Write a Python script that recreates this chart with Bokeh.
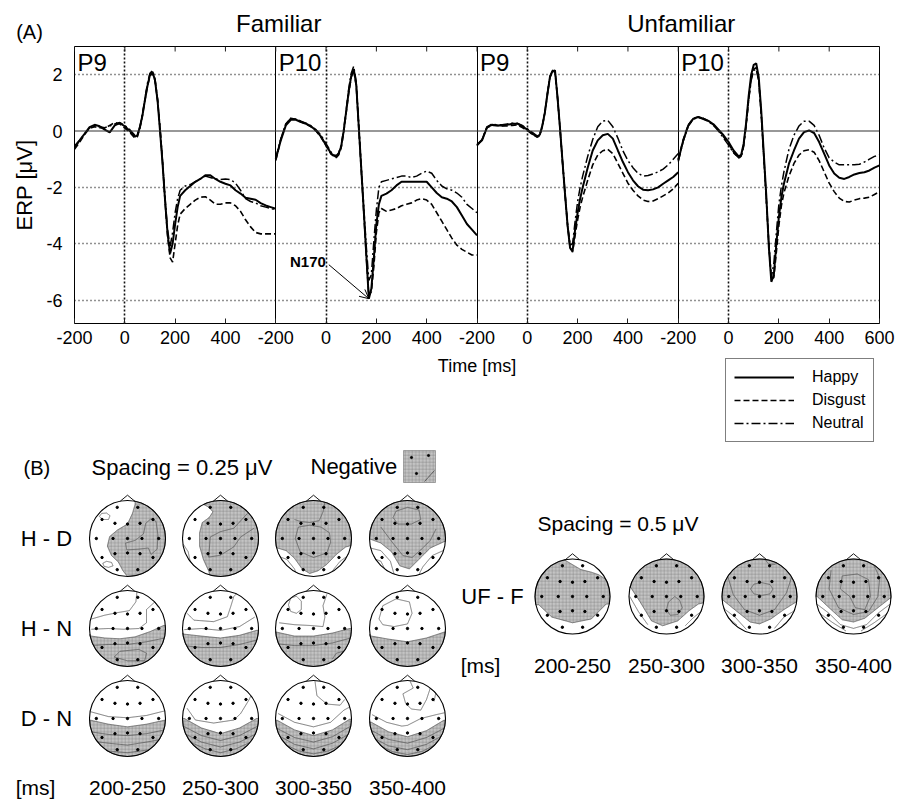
import numpy as np
from bokeh.plotting import figure
from bokeh.layouts import column
from bokeh.models import (Range1d, FixedTicker, LinearAxis, Grid, Span, Legend,
                          LegendItem, Arrow, OpenHead, Label)
from bokeh.core.properties import value
from bokeh.embed import file_html
from bokeh.resources import INLINE

FONT = "Liberation Sans"

# ============================================================ data, part (A)
TIME = [-200, -180, -160, -140, -120, -100, -80, -60, -40, -20, 0, 20, 40,
        50, 60, 70, 80, 90, 100, 110, 120, 130, 140, 150, 160, 170, 180, 190,
        200, 210, 220, 240, 260, 280, 300, 320, 340, 360, 380, 400, 420, 440,
        460, 480, 500, 520, 540, 560, 580, 600]

HAPPY_FAM_P9 = [
    -0.55, -0.33, -0.10, 0.14, 0.22, 0.17, 0.05, -0.05, 0.20, 0.28,
    0.17, 0.00, -0.20,
    -0.15, 0.14, 0.55, 1.10, 1.60, 2.00, 2.10, 1.80, 1.10, 0.00, -1.15, -2.45, -3.65, -4.35, -4.00, -3.30, -2.70, -2.30,
    -2.10, -1.95, -1.80, -1.70, -1.57, -1.57, -1.70, -1.80, -1.87, -1.93, -2.10, -2.22, -2.37, -2.40, -2.44, -2.56, -2.64, -2.70, -2.76]
DISGUST_FAM_P9 = [
    -0.65, -0.40, -0.12, 0.10, 0.15, 0.12, 0.10, 0.20, 0.30, 0.25,
    0.10, -0.05, -0.25,
    -0.20, 0.10, 0.55, 1.10, 1.60, 1.95, 2.05, 1.80, 1.10, 0.10, -1.10, -2.50, -3.70, -4.50, -4.65, -4.00, -3.35, -2.95,
    -2.75, -2.60, -2.45, -2.35, -2.33, -2.45, -2.60, -2.60, -2.55, -2.55, -2.65, -2.85, -3.15, -3.40, -3.60, -3.65, -3.65, -3.65, -3.65]
NEUTRAL_FAM_P9 = [
    -0.60, -0.35, -0.10, 0.12, 0.18, 0.15, 0.12, 0.18, 0.25, 0.30,
    0.20, 0.05, -0.15,
    -0.12, 0.15, 0.60, 1.15, 1.70, 2.05, 2.15, 1.85, 1.15, 0.10, -1.10, -2.40, -3.50, -4.10, -3.60, -2.90, -2.40, -2.10,
    -1.95, -1.90, -1.80, -1.70, -1.60, -1.65, -1.70, -1.72, -1.70, -1.72, -1.85, -2.10, -2.40, -2.50, -2.55, -2.65, -2.70, -2.75, -2.80]

HAPPY_FAM_P10 = [
    -1.00, -0.33, 0.20, 0.40, 0.40, 0.32, 0.26, 0.17, 0.02, -0.20,
    -0.50, -0.80, -0.92,
    -0.80, -0.55, 0.00, 0.70, 1.40, 1.95, 2.20, 1.65, 0.15, -1.35, -2.85, -4.40, -5.95, -5.60, -4.50, -3.30, -2.60, -2.30,
    -2.22, -2.10, -1.93, -1.80, -1.80, -1.80, -1.80, -1.80, -1.80, -2.00, -2.20, -2.35, -2.40, -2.50, -2.70, -3.00, -3.30, -3.50, -3.70]
DISGUST_FAM_P10 = [
    -1.05, -0.30, 0.25, 0.45, 0.42, 0.33, 0.25, 0.15, 0.00, -0.22,
    -0.52, -0.82, -0.95,
    -0.85, -0.60, -0.05, 0.65, 1.35, 1.90, 2.15, 1.60, 0.10, -1.40, -2.90, -4.45, -5.85, -5.70, -4.80, -3.60, -2.90, -2.75,
    -2.85, -2.80, -2.75, -2.65, -2.60, -2.55, -2.45, -2.40, -2.45, -2.60, -2.90, -3.20, -3.50, -3.80, -4.05, -4.20, -4.30, -4.40, -4.40]
NEUTRAL_FAM_P10 = [
    -0.95, -0.28, 0.25, 0.45, 0.42, 0.35, 0.28, 0.18, 0.05, -0.15,
    -0.45, -0.75, -0.88,
    -0.78, -0.50, 0.05, 0.75, 1.50, 2.05, 2.30, 1.75, 0.25, -1.25, -2.70, -4.10, -5.30, -5.10, -3.90, -2.80, -2.00, -1.80,
    -1.75, -1.70, -1.65, -1.60, -1.60, -1.65, -1.60, -1.50, -1.42, -1.50, -1.75, -1.95, -2.05, -2.10, -2.20, -2.35, -2.60, -2.75, -2.90]

HAPPY_UNF_P9 = [
    -0.50, -0.33, 0.14, 0.22, 0.20, 0.20, 0.22, 0.26, 0.26, 0.17,
    0.05, -0.10, -0.20,
    -0.12, 0.20, 0.67, 1.32, 1.92, 2.12, 2.15, 1.20, 0.10, -1.10, -2.25, -3.35, -4.15, -4.25, -3.50, -2.90, -2.40, -2.00,
    -1.30, -0.69, -0.33, -0.15, -0.10, -0.27, -0.69, -1.10, -1.46, -1.75, -1.96, -2.08, -2.10, -2.07, -2.00, -1.87, -1.75, -1.63, -1.46]
DISGUST_UNF_P9 = [
    -0.52, -0.30, 0.12, 0.20, 0.20, 0.18, 0.18, 0.20, 0.22, 0.12,
    0.02, -0.12, -0.22,
    -0.15, 0.18, 0.65, 1.30, 1.90, 2.10, 2.12, 1.18, 0.08, -1.12, -2.25, -3.35, -4.15, -4.30, -3.70, -3.15, -2.70, -2.35,
    -1.75, -1.20, -0.85, -0.70, -0.65, -0.80, -1.15, -1.50, -1.85, -2.10, -2.30, -2.45, -2.50, -2.48, -2.40, -2.30, -2.20, -2.05, -1.85]
NEUTRAL_UNF_P9 = [
    -0.48, -0.30, 0.15, 0.25, 0.22, 0.22, 0.25, 0.28, 0.28, 0.20,
    0.08, -0.05, -0.18,
    -0.10, 0.22, 0.70, 1.35, 1.95, 2.15, 2.18, 1.22, 0.12, -1.08, -2.22, -3.30, -4.05, -4.00, -3.20, -2.50, -2.00, -1.60,
    -0.90, -0.30, 0.15, 0.35, 0.38, 0.15, -0.25, -0.70, -1.05, -1.30, -1.50, -1.60, -1.58, -1.52, -1.45, -1.35, -1.20, -1.00, -0.80]

HAPPY_UNF_P10 = [
    -1.04, -0.33, 0.20, 0.44, 0.50, 0.44, 0.36, 0.24, 0.05, -0.15,
    -0.39, -0.69, -0.90,
    -0.85, -0.45, 0.30, 1.25, 2.00, 2.35, 2.40, 1.90, 0.70, -0.80, -2.30, -4.10, -5.35, -5.10, -4.00, -3.05, -2.35, -1.87,
    -1.16, -0.69, -0.27, -0.04, 0.02, -0.07, -0.39, -0.80, -1.22, -1.51, -1.66, -1.70, -1.63, -1.54, -1.49, -1.46, -1.40, -1.30, -1.22]
DISGUST_UNF_P10 = [
    -1.00, -0.30, 0.22, 0.45, 0.50, 0.45, 0.35, 0.22, 0.02, -0.20,
    -0.45, -0.75, -0.95,
    -0.90, -0.50, 0.25, 1.15, 1.85, 2.20, 2.25, 1.80, 0.60, -0.90, -2.40, -4.00, -5.25, -5.20, -4.30, -3.35, -2.65, -2.20,
    -1.60, -1.15, -0.85, -0.70, -0.66, -0.75, -1.05, -1.45, -1.85, -2.15, -2.38, -2.50, -2.52, -2.45, -2.40, -2.38, -2.35, -2.25, -2.15]
NEUTRAL_UNF_P10 = [
    -1.08, -0.35, 0.18, 0.42, 0.48, 0.42, 0.34, 0.20, 0.00, -0.25,
    -0.50, -0.78, -0.95,
    -0.92, -0.55, 0.20, 1.10, 1.80, 2.15, 2.20, 1.75, 0.55, -0.95, -2.45, -4.00, -5.20, -4.70, -3.60, -2.60, -1.95, -1.45,
    -0.65, -0.15, 0.18, 0.35, 0.35, 0.20, -0.15, -0.60, -0.95, -1.10, -1.20, -1.20, -1.20, -1.20, -1.18, -1.10, -1.00, -0.90, -0.85]

CONDITIONS = ["Happy", "Disgust", "Neutral"]
PANEL_LABELS = ["P9", "P10", "P9", "P10"]
PANEL_SERIES = [
    [HAPPY_FAM_P9, DISGUST_FAM_P9, NEUTRAL_FAM_P9],
    [HAPPY_FAM_P10, DISGUST_FAM_P10, NEUTRAL_FAM_P10],
    [HAPPY_UNF_P9, DISGUST_UNF_P9, NEUTRAL_UNF_P9],
    [HAPPY_UNF_P10, DISGUST_UNF_P10, NEUTRAL_UNF_P10],
]
GROUP_TITLES = ["Familiar", "Unfamiliar"]
X_TICK_VALUES = [-200, 0, 200, 400]
Y_TICK_VALUES = [-6, -4, -2, 0, 2]
Y_DOTTED = [-6, -4, -2, 2]
PEAK_NAME = "N170"
X_TITLE = "Time [ms]"
Y_TITLE = "ERP [\u03bcV]"

# ============================================================ data, part (B)
ROW_LABELS = ["H - D", "H - N", "D - N"]
COL_LABELS = ["200-250", "250-300", "300-350", "350-400"]
UF_LABEL = "UF - F"
ELEC_U = [-0.27, 0.27, -0.67, -0.33, 0.0, 0.33, 0.67, -0.82, -0.38, 0.0, 0.38, 0.82,
          -0.67, -0.33, 0.0, 0.33, 0.67, -0.27, 0.27]
ELEC_V = [0.82, 0.82, 0.5, 0.4, 0.38, 0.4, 0.5, 0.0, 0.0, 0.0, 0.0, 0.0,
          -0.5, -0.4, -0.38, -0.4, -0.5, -0.82, -0.82]

# negative-region outlines and contour lines, unit-head coordinates (u right, v to nose)
SHADE = {
    "HD1": [(0.22, 1.3), (0.2, 0.9), (0.13, 0.66), (0.0, 0.38), (-0.27, 0.22), (-0.47, 0.05), (-0.53, -0.2),
            (-0.42, -0.45), (-0.24, -0.62), (-0.12, -0.85), (0.0, -1.0), (0.1, -1.3), (1.3, -1.3), (1.3, 1.3)],
    "HD2": [(-0.5, 1.3), (-0.45, 0.9), (-0.3, 0.82), (-0.2, 0.7), (-0.3, 0.55), (-0.48, 0.42), (-0.55, 0.15),
            (-0.55, -0.2), (-0.45, -0.55), (-0.3, -0.88), (-0.25, -1.3), (1.3, -1.3), (1.3, 1.3)],
    "HD3": [(-1.3, -0.3), (-0.95, -0.25), (-0.72, -0.32), (-0.5, -0.52), (-0.3, -0.8), (-0.1, -0.92), (0.12, -0.85),
            (0.35, -0.68), (0.6, -0.42), (0.85, -0.22), (1.3, -0.12), (1.3, 1.3), (-1.3, 1.3)],
    "HD4": [(-1.3, 0.0), (-0.97, -0.02), (-0.7, -0.12), (-0.42, -0.35), (-0.2, -0.72), (0.05, -0.8), (0.3, -0.55),
            (0.6, -0.25), (0.97, -0.08), (1.3, -0.05), (1.3, 1.3), (-1.3, 1.3)],
    "HN1": [(-1.3, -0.2), (-0.95, -0.2), (-0.6, -0.25), (-0.2, -0.27), (0.2, -0.22), (0.6, -0.08), (0.95, 0.08),
            (1.3, 0.1), (1.3, -1.3), (-1.3, -1.3)],
    "HN2": [(-1.3, -0.15), (-0.95, -0.15), (-0.5, -0.2), (0.0, -0.25), (0.5, -0.18), (0.95, -0.05), (1.3, -0.05),
            (1.3, -1.3), (-1.3, -1.3)],
    "HN3": [(-1.3, -0.1), (-0.95, -0.1), (-0.5, -0.2), (0.0, -0.2), (0.5, -0.12), (0.95, 0.0), (1.3, 0.0),
            (1.3, -1.3), (-1.3, -1.3)],
    "HN4": [(-1.3, -0.2), (-0.95, -0.2), (-0.5, -0.28), (0.0, -0.35), (0.5, -0.25), (0.95, -0.1), (1.3, -0.1),
            (1.3, -1.3), (-1.3, -1.3)],
    "DN1": [(-1.3, -0.05), (-0.95, -0.05), (-0.5, -0.15), (0.0, -0.22), (0.5, -0.15), (0.95, -0.05), (1.3, -0.05),
            (1.3, -1.3), (-1.3, -1.3)],
    "DN2": [(-1.3, 0.0), (-0.95, 0.0), (-0.5, -0.25), (0.0, -0.4), (0.5, -0.25), (0.95, 0.0), (1.3, 0.0),
            (1.3, -1.3), (-1.3, -1.3)],
    "DN3": [(-1.3, -0.05), (-0.95, -0.05), (-0.5, -0.3), (0.0, -0.45), (0.5, -0.3), (0.95, -0.02), (1.3, -0.02),
            (1.3, -1.3), (-1.3, -1.3)],
    "DN4": [(-1.3, -0.1), (-0.95, -0.1), (-0.5, -0.35), (0.0, -0.48), (0.5, -0.32), (0.95, -0.05), (1.3, -0.05),
            (1.3, -1.3), (-1.3, -1.3)],
    "UF1": [(-0.22, 1.3), (-0.22, 0.98), (0.0, 0.85), (0.22, 0.72), (0.5, 0.65), (0.7, 0.58), (0.9, 0.45),
            (1.3, 0.45), (1.3, -0.2), (0.9, -0.2), (0.5, -0.6), (0.0, -0.7), (-0.55, -0.55), (-0.9, -0.22),
            (-1.3, -0.22), (-1.3, 1.3)],
    "UF2": [(-1.3, 0.3), (-0.98, 0.28), (-0.7, -0.15), (-0.4, -0.65), (-0.1, -0.78), (0.3, -0.65), (0.6, -0.38),
            (0.85, -0.2), (1.3, -0.1), (1.3, 1.3), (-1.3, 1.3)],
    "UF3": [(-1.3, -0.1), (-0.97, -0.1), (-0.6, -0.4), (-0.25, -0.68), (0.0, -0.73), (0.3, -0.6), (0.65, -0.35),
            (0.97, -0.15), (1.3, -0.15), (1.3, 1.3), (-1.3, 1.3)],
    "UF4": [(-1.3, 0.0), (-0.97, 0.0), (-0.65, -0.3), (-0.3, -0.62), (0.0, -0.68), (0.3, -0.58), (0.65, -0.3),
            (0.97, -0.05), (1.3, -0.05), (1.3, 1.3), (-1.3, 1.3)],
}
CONTOURS = {
    "HD1": [[(0.62, 0.52), (0.48, 0.4), (0.42, 0.12), (0.2, -0.05), (-0.05, -0.12), (-0.02, -0.3), (0.3, -0.28),
             (0.55, -0.25), (0.62, -0.42), (0.78, -0.28), (0.8, 0.1), (0.75, 0.45), (0.62, 0.52)],
            [(-0.74, 0.58), (-0.68, 0.66), (-0.55, 0.67), (-0.46, 0.6), (-0.5, 0.5), (-0.65, 0.5), (-0.74, 0.58)],
            [(-0.65, -0.65), (-0.55, -0.6), (-0.42, -0.63), (-0.38, -0.72), (-0.5, -0.76), (-0.62, -0.73), (-0.65, -0.65)]],
    "HD2": [[(0.71, 0.66), (0.35, 0.27), (0.0, 0.18), (-0.27, 0.04), (-0.31, -0.49), (0.0, -0.44), (0.35, -0.22),
             (0.53, 0.04), (0.88, 0.27)],
            [(-0.98, -0.15), (-0.85, -0.35), (-0.8, -0.6), (-0.68, -0.8)]],
    "HD3": [[(-0.4, 0.3), (-0.48, 0.0), (-0.35, -0.35), (0.0, -0.5), (0.35, -0.38), (0.45, -0.1), (0.42, 0.15),
             (0.2, 0.3), (-0.1, 0.35), (-0.4, 0.3)],
            [(0.31, 1.0), (0.25, 0.7), (0.15, 0.47), (-0.1, 0.42), (-0.35, 0.45), (-0.5, 0.5)],
            [(-0.98, -0.45), (-0.7, -0.55), (-0.5, -0.8), (-0.45, -0.95)],
            [(0.98, -0.4), (0.7, -0.6), (0.5, -0.85)]],
    "HD4": [[(-0.3, 0.72), (0.0, 0.82), (0.3, 0.75), (0.35, 0.5), (0.1, 0.38), (-0.25, 0.38), (-0.38, 0.55), (-0.3, 0.72)],
            [(-0.7, 0.3), (-0.4, -0.1), (-0.12, -0.45), (0.12, -0.5), (0.35, -0.3), (0.6, -0.05), (0.75, 0.25)],
            [(-0.98, -0.25), (-0.7, -0.32), (-0.45, -0.6), (-0.35, -0.95)],
            [(-0.95, -0.5), (-0.7, -0.6), (-0.55, -0.9)],
            [(0.98, -0.3), (0.65, -0.45), (0.4, -0.75), (0.3, -0.95)],
            [(0.95, -0.55), (0.7, -0.7), (0.55, -0.85)]],
    "HN1": [[(-0.95, 0.25), (-0.6, 0.35), (-0.25, 0.42), (0.05, 0.47), (0.22, 0.7), (0.25, 0.98)],
            [(-0.95, -0.02), (-0.5, 0.0), (-0.1, -0.02), (0.3, 0.0), (0.5, 0.15), (0.5, 0.5), (0.72, 0.7), (0.82, 0.55)],
            [(-0.35, -0.75), (-0.2, -0.6), (0.3, -0.55), (0.5, -0.65), (0.45, -0.85), (0.0, -0.85), (-0.35, -0.75)],
            [(-0.98, -0.45), (-0.5, -0.42), (0.0, -0.42), (0.5, -0.35), (0.98, -0.25)]],
    "HN2": [[(-0.88, 0.4), (-0.7, 0.22), (-0.18, 0.18), (0.18, 0.31), (0.27, 0.58), (0.35, 0.84), (0.45, 0.95)],
            [(-0.95, -0.03), (-0.5, 0.0), (0.0, -0.05), (0.5, 0.05), (0.9, 0.3)],
            [(-0.98, -0.45), (-0.5, -0.5), (0.0, -0.5), (0.5, -0.42), (0.98, -0.3)]],
    "HN3": [[(-0.66, 0.62), (-0.6, 0.8), (-0.45, 0.85), (-0.32, 0.72), (-0.32, 0.5), (-0.45, 0.4), (-0.6, 0.45), (-0.66, 0.62)],
            [(-0.9, 0.15), (-0.5, 0.1), (-0.1, 0.08), (0.25, 0.05), (0.3, 0.3), (0.25, 0.6), (0.35, 0.9)],
            [(-0.98, -0.4), (-0.5, -0.45), (0.0, -0.45), (0.5, -0.38), (0.98, -0.25)],
            [(0.5, -0.8), (0.6, -0.65), (0.8, -0.6)]],
    "HN4": [[(-0.75, 0.25), (-0.65, 0.6), (-0.3, 0.78), (0.05, 0.7), (0.12, 0.4), (0.0, 0.12), (-0.35, 0.05),
             (-0.65, 0.1), (-0.75, 0.25)]],
    "DN1": [[(-0.98, 0.18), (-0.5, 0.05), (0.0, 0.02), (0.5, 0.08), (0.98, 0.2)],
            [(-0.98, -0.35), (-0.5, -0.42), (0.0, -0.45), (0.5, -0.4), (0.98, -0.3)],
            [(-0.9, -0.6), (-0.5, -0.65), (0.0, -0.7), (0.5, -0.62), (0.9, -0.55)],
            [(-0.6, -0.85), (0.0, -0.9), (0.6, -0.82)]],
    "DN2": [[(-0.88, 0.27), (-0.66, -0.04), (-0.18, -0.12), (0.35, -0.04), (0.53, 0.13), (0.75, 0.49), (0.8, 0.6)],
            [(-0.98, -0.2), (-0.5, -0.45), (0.0, -0.58), (0.5, -0.45), (0.98, -0.2)],
            [(-0.95, -0.4), (-0.5, -0.62), (0.0, -0.75), (0.5, -0.62), (0.95, -0.4)],
            [(-0.8, -0.62), (-0.4, -0.8), (0.0, -0.9), (0.4, -0.8), (0.8, -0.62)]],
    "DN3": [[(0.04, 0.98), (0.09, 0.6), (0.35, 0.38), (0.7, 0.35), (0.82, 0.5)],
            [(-0.93, 0.13), (-0.5, -0.1), (0.0, -0.22), (0.45, -0.1), (0.8, 0.22), (0.95, 0.3)],
            [(-0.98, -0.25), (-0.5, -0.5), (0.0, -0.62), (0.5, -0.48), (0.98, -0.2)],
            [(-0.92, -0.45), (-0.5, -0.68), (0.0, -0.8), (0.5, -0.65), (0.92, -0.42)],
            [(-0.75, -0.68), (-0.4, -0.85), (0.0, -0.93), (0.4, -0.85), (0.75, -0.68)]],
    "DN4": [[(0.07, 0.98), (0.15, 0.8), (-0.12, 0.65), (-0.05, 0.4), (0.1, 0.25), (0.35, 0.22), (0.5, 0.5),
             (0.6, 0.8), (0.75, 0.7), (0.7, 0.45)],
            [(-0.93, 0.1), (-0.55, -0.1), (-0.15, -0.2), (0.0, -0.18), (0.35, 0.0), (0.75, 0.1), (0.97, 0.15)],
            [(-0.98, -0.3), (-0.5, -0.55), (0.0, -0.65), (0.5, -0.5), (0.98, -0.25)],
            [(-0.92, -0.5), (-0.5, -0.72), (0.0, -0.82), (0.5, -0.68), (0.92, -0.45)],
            [(-0.75, -0.7), (-0.4, -0.87), (0.0, -0.95), (0.4, -0.86), (0.75, -0.68)]],
    "UF1": [],
    "UF2": [[(0.05, -0.15), (0.0, -0.35), (0.1, -0.5), (0.3, -0.48), (0.42, -0.3), (0.35, -0.1), (0.22, 0.0), (0.05, -0.15)],
            [(-0.98, 0.0), (-0.75, -0.4), (-0.5, -0.75)],
            [(0.98, -0.35), (0.7, -0.58), (0.5, -0.78)]],
    "UF3": [[(-0.24, 0.2), (-0.15, 0.33), (0.06, 0.37), (0.28, 0.32), (0.36, 0.2), (0.28, 0.07), (0.06, 0.03),
             (-0.15, 0.07), (-0.24, 0.2)],
            [(-0.85, 0.55), (-0.7, 0.05), (-0.4, -0.35), (0.0, -0.5), (0.4, -0.35), (0.72, 0.1), (0.85, 0.5)],
            [(0.15, 0.98), (0.25, 0.86), (0.42, 0.86), (0.5, 0.95)],
            [(-0.98, -0.3), (-0.65, -0.55), (-0.35, -0.88)],
            [(-0.9, -0.52), (-0.6, -0.76)],
            [(0.98, -0.35), (0.65, -0.55), (0.4, -0.85)],
            [(0.9, -0.55), (0.62, -0.76)]],
    "UF4": [[(-0.3, 0.55), (0.1, 0.6), (0.4, 0.45), (0.45, 0.0), (0.3, -0.35), (0.05, -0.3), (-0.1, 0.0),
             (-0.35, 0.2), (-0.3, 0.55)],
            [(-0.6, 0.7), (-0.65, 0.2), (-0.4, -0.3), (0.0, -0.48), (0.4, -0.4), (0.65, 0.0), (0.7, 0.5), (0.55, 0.82)],
            [(-0.98, -0.2), (-0.65, -0.45), (-0.35, -0.75), (0.0, -0.85), (0.35, -0.75), (0.65, -0.45), (0.98, -0.2)],
            [(-0.9, -0.45), (-0.55, -0.7), (-0.2, -0.92)],
            [(0.9, -0.45), (0.55, -0.7), (0.2, -0.92)]],
}
GRID_HEADS = [["HD1", "HD2", "HD3", "HD4"], ["HN1", "HN2", "HN3", "HN4"], ["DN1", "DN2", "DN3", "DN4"]]
UF_HEADS = ["UF1", "UF2", "UF3", "UF4"]

# ============================================================ layout / style
W, H_TOTAL = 898, 801
H_HEAD = 46                       # header strip (titles)
FRAME_L, FRAME_R, FRAME_H = 74, 19, 277
BOTTOM_A = 28                     # x tick labels below the ERP frame
H_A = FRAME_H + BOTTOM_A
TOP_B = H_HEAD + H_A
H_B = H_TOTAL - TOP_B
Y_LO, Y_HI = -6.83, 3.0
SPAN = TIME[-1] - TIME[0]
NP = len(PANEL_LABELS)
PX_X = (W - FRAME_L - FRAME_R) / (SPAN * NP)     # px per ms
PX_Y = FRAME_H / (Y_HI - Y_LO)                   # px per uV


def no_align(p):
    try:
        p.frame_align = False
    except Exception:
        pass


def page_x(xdata):
    return FRAME_L + (xdata - TIME[0]) * PX_X


STYLE = {
    "Happy": dict(line_dash="solid", line_width=2.0),
    "Disgust": dict(line_dash="6 3", line_width=1.6),
    "Neutral": dict(line_dash="9 3 2 3", line_width=1.5),
}

# ---------------------------------------------------------------- header strip
pH = figure(width=W, height=H_HEAD, x_range=Range1d(0, W), y_range=Range1d(H_HEAD, 0),
            output_backend="svg", toolbar_location=None, min_border=0,
            x_axis_location=None, y_axis_location=None, outline_line_color=None,
            background_fill_color="white", border_fill_color="white")
no_align(pH)
for g in list(pH.grid):
    g.visible = False
pH.text(x=[page_x(TIME[-1] + SPAN * 2 * j) + 3 for j in range(len(GROUP_TITLES))], y=[23, 23],
        text=GROUP_TITLES, text_font=value(FONT), text_font_size="24px",
        text_align="center", text_baseline="middle", text_color="black")
pH.text(x=[29], y=[31], text=["(A)"], text_font=value(FONT), text_font_size="20px",
        text_align="center", text_baseline="middle", text_color="black")

# ---------------------------------------------------------------- ERP panels
pA = figure(width=W, height=H_A,
            x_range=Range1d(TIME[0], TIME[0] + SPAN * NP), y_range=Range1d(Y_LO, Y_HI),
            output_backend="svg", toolbar_location=None,
            x_axis_location=None, y_axis_location=None,
            min_border_left=FRAME_L, min_border_right=FRAME_R,
            min_border_top=0, min_border_bottom=BOTTOM_A,
            outline_line_color="black", outline_line_width=1,
            background_fill_color="white", border_fill_color="white")
no_align(pA)
for g in list(pA.grid):
    g.visible = False

x_ticks, x_over = [], {}
for k in range(NP):
    vals = X_TICK_VALUES + ([TIME[-1]] if k == NP - 1 else [])
    for t in vals:
        pos = t + SPAN * k
        x_ticks.append(pos)
        x_over[pos] = str(t)
xaxis = LinearAxis(ticker=FixedTicker(ticks=x_ticks), major_label_overrides=x_over,
                   major_label_text_font=FONT, major_label_text_font_size="18px",
                   major_label_text_color="black", major_label_standoff=7,
                   major_tick_in=5, major_tick_out=0, minor_tick_line_color=None,
                   axis_line_color=None, major_tick_line_color="#222")
pA.add_layout(xaxis, "below")
yaxis = LinearAxis(ticker=FixedTicker(ticks=Y_TICK_VALUES),
                   major_label_overrides={v: str(v) for v in Y_TICK_VALUES},
                   axis_label=Y_TITLE, axis_label_standoff=6,
                   axis_label_text_font=FONT, axis_label_text_font_size="22px",
                   axis_label_text_font_style="normal", axis_label_text_color="black",
                   major_label_text_font=FONT, major_label_text_font_size="18px",
                   major_label_text_color="black",
                   major_label_standoff=12, major_tick_in=0, major_tick_out=0,
                   minor_tick_line_color=None, axis_line_color=None)
pA.add_layout(yaxis, "left")

# inward tick marks along the top edge, at the bottom axis' tick positions
pA.segment(x0=x_ticks, y0=[Y_HI] * len(x_ticks), x1=x_ticks, y1=[Y_HI - 5 / PX_Y] * len(x_ticks),
           line_color="#222", line_width=1)

pA.add_layout(Grid(dimension=1, ticker=FixedTicker(ticks=Y_DOTTED), grid_line_color="#222",
                   grid_line_dash="1 3", grid_line_width=1.3))
pA.add_layout(Grid(dimension=0, ticker=FixedTicker(ticks=[SPAN * k for k in range(NP)]),
                   grid_line_color="#111", grid_line_dash="2 2", grid_line_width=1.6))
pA.add_layout(Grid(dimension=0, ticker=FixedTicker(ticks=[TIME[-1] + SPAN * k for k in range(NP - 1)]),
                   grid_line_color="black", grid_line_width=1))
pA.add_layout(Span(location=0, dimension="width", line_color="#333", line_width=1.1))

time_arr = np.array(TIME, dtype=float)
for k, series in enumerate(PANEL_SERIES):
    for cond, vals in zip(CONDITIONS, series):
        pA.line(time_arr + SPAN * k, vals, line_color="black", **STYLE[cond])

pA.text(x=[TIME[0] + SPAN * k + 3 / PX_X for k in range(NP)], y=[Y_HI - 2 / PX_Y] * NP,
        text=PANEL_LABELS, text_font=value(FONT), text_font_size="24px",
        text_baseline="top", text_align="left", text_color="black")

imin = int(np.argmin(HAPPY_FAM_P10))
x_end = TIME[imin] + SPAN * 1
y_end = HAPPY_FAM_P10[imin]
x_start = x_end - 40 / PX_X
y_start = y_end + 34 / PX_Y
pA.add_layout(Arrow(end=OpenHead(size=9, line_width=1), x_start=x_start, y_start=y_start,
                    x_end=x_end, y_end=y_end, line_width=1, line_color="black"))
pA.add_layout(Label(x=x_start - 3 / PX_X, y=y_start + 3 / PX_Y, text=PEAK_NAME, text_font=FONT,
                    text_font_size="15px", text_font_style="bold", text_align="right",
                    text_baseline="middle", text_color="black"))

# ---------------------------------------------------------------- lower figure: x title, legend, maps
pB = figure(width=W, height=H_B, x_range=Range1d(0, W), y_range=Range1d(H_TOTAL, TOP_B),
            output_backend="svg", toolbar_location=None, min_border=0,
            x_axis_location=None, y_axis_location=None, outline_line_color=None,
            background_fill_color="white", border_fill_color="white")
no_align(pB)
for g in list(pB.grid):
    g.visible = False

TXT = dict(text_font=value(FONT), text_color="black", text_baseline="middle")
pB.text(x=[FRAME_L + (W - FRAME_L - FRAME_R) / 2], y=[365], text=[X_TITLE],
        text_font_size="18px", text_align="center", **TXT)

# legend key for the ERP line styles (key renderers hold no visible points)
key_renderers = [pB.line(x=[np.nan, np.nan], y=[np.nan, np.nan], line_color="black", **STYLE[c])
                 for c in CONDITIONS]
legend = Legend(items=[LegendItem(label=c, renderers=[r]) for c, r in zip(CONDITIONS, key_renderers)],
                location=(725, H_TOTAL - 442), margin=0,
                label_text_font=FONT, label_text_font_size="16px", label_text_color="black",
                glyph_width=60, glyph_height=20, label_height=20, label_standoff=18,
                padding=8, spacing=3, border_line_color="black", border_line_width=1,
                background_fill_color="white", background_fill_alpha=1)
pB.add_layout(legend, "center")

GRID_X = [127, 220, 313, 407]
GRID_Y = [538, 628, 718]
R_GRID = 38
UF_X = [572, 666, 759, 853]
UF_Y = 596
R_UF = 37.5


def to_page(pts, cx, cy, R, closed=False):
    pts = np.asarray(pts, dtype=float)
    if closed:
        pts = np.vstack([pts, pts[:1]])
    seg = []
    for a, b in zip(pts[:-1], pts[1:]):
        s = np.linspace(0.0, 1.0, 24, endpoint=False)[:, None]
        seg.append(a + (b - a) * s)
    seg.append(pts[-1:])
    pts = np.vstack(seg)
    r = np.hypot(pts[:, 0], pts[:, 1])
    sc = np.where(r > 1.0, 1.0 / np.maximum(r, 1e-9), 1.0)
    pts = pts * sc[:, None]
    return list(cx + R * pts[:, 0]), list(cy - R * pts[:, 1])


heads = []
for ri, row in enumerate(GRID_HEADS):
    for ci, name in enumerate(row):
        heads.append((name, GRID_X[ci], GRID_Y[ri], R_GRID))
for ci, name in enumerate(UF_HEADS):
    heads.append((name, UF_X[ci], UF_Y, R_UF))

sh_x, sh_y, ct_x, ct_y, nose_x, nose_y, ex, ey = [], [], [], [], [], [], [], []
for name, cx, cy, R in heads:
    xs, ys = to_page(SHADE[name], cx, cy, R, closed=True)
    sh_x.append(xs); sh_y.append(ys)
    for line in CONTOURS[name]:
        xs, ys = to_page(line, cx, cy, R)
        ct_x.append(xs); ct_y.append(ys)
    nose_x.append([cx - 0.19 * R, cx, cx + 0.19 * R])
    nose_y.append([cy - 0.982 * R, cy - 1.14 * R, cy - 0.982 * R])
    ex.extend([cx + R * u for u in ELEC_U])
    ey.extend([cy - R * v for v in ELEC_V])

SHADE_STYLE = dict(fill_color="#c4c4c4", hatch_pattern="+", hatch_color="#858585",
                   hatch_scale=3.5, hatch_weight=0.5)
pB.patches(sh_x, sh_y, line_color="#555", line_width=0.8, **SHADE_STYLE)
pB.multi_line(ct_x, ct_y, line_color="#555", line_width=0.8)
pB.circle(x=[h[1] for h in heads], y=[h[2] for h in heads], radius=[h[3] for h in heads],
          fill_color=None, line_color="black", line_width=1.1)
pB.multi_line(nose_x, nose_y, line_color="black", line_width=0.9)
pB.scatter(ex, ey, size=2.4, marker="circle", color="black")

# "Negative" key square
pB.quad(left=[403], right=[435], top=[450], bottom=[482], line_color="#777", line_width=0.6, **SHADE_STYLE)
pB.scatter([411, 428, 416], [457, 455, 473], size=2.2, color="black")
pB.line([424, 434], [481, 470], line_color="#444", line_width=0.8)

pB.text(x=[23], y=[467], text=["(B)"], text_font_size="20px", text_align="left", **TXT)
pB.text(x=[91, 310], y=[467, 466], text=["Spacing = 0.25 \u03bcV", "Negative"],
        text_font_size="22px", text_align="left", **TXT)
pB.text(x=[46] * 3, y=GRID_Y, text=ROW_LABELS, text_font_size="22px", text_align="center", **TXT)
pB.text(x=[35], y=[787], text=["[ms]"], text_font_size="21px", text_align="center", **TXT)
pB.text(x=GRID_X, y=[787] * 4, text=COL_LABELS, text_font_size="21px", text_align="center", **TXT)
pB.text(x=[537], y=[523], text=["Spacing = 0.5 \u03bcV"], text_font_size="21px", text_align="left", **TXT)
pB.text(x=[492], y=[UF_Y], text=[UF_LABEL], text_font_size="22px", text_align="center", **TXT)
pB.text(x=[480], y=[665], text=["[ms]"], text_font_size="21px", text_align="center", **TXT)
pB.text(x=UF_X, y=[665] * 4, text=COL_LABELS, text_font_size="21px", text_align="center", **TXT)

layout = column(pH, pA, pB, spacing=0)
open("out.html", "w").write(file_html(layout, INLINE))
